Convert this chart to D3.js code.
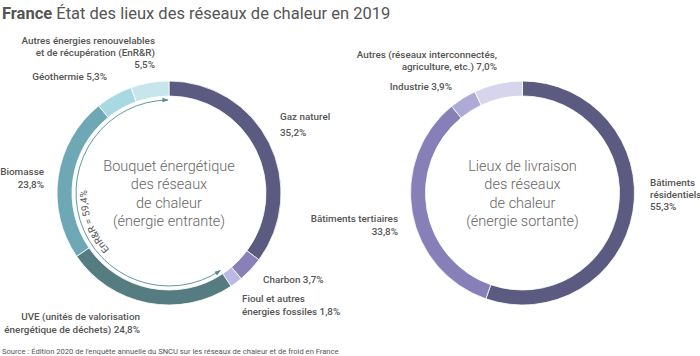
<!DOCTYPE html>
<html><head><meta charset="utf-8">
<script src="https://cdn.jsdelivr.net/npm/d3@7"></script>
<style>
body{margin:0;background:#fff;}
text{font-family:Roboto,"Noto Sans",sans-serif;}
</style></head><body>
<svg id="c" width="700" height="356"></svg>
<script>
const inCategories = ["Gaz naturel","Charbon","Fioul et autres énergies fossiles","UVE","Biomasse","Géothermie","Autres EnR&R"];
const inValues = [35.2,3.7,1.8,24.8,23.8,5.3,5.5];
const inColors = ["#5b5a80","#8a80b8","#bcb8e6","#557c80","#6fa8b5","#a8d8e2","#c6e6ec"];
const inLabels = [
  {lines:["Gaz naturel","35,2%"], x:280, y:120, anchor:"start", lh:16},
  {lines:["Charbon 3,7%"], x:263, y:283, anchor:"start", lh:12},
  {lines:["Fioul et autres","énergies fossiles 1,8%"], x:242, y:302, anchor:"start", lh:13},
  {lines:["UVE (unités de valorisation","énergétique de déchets) 24,8%"], x:140, y:320, anchor:"end", lh:12.5},
  {lines:["Biomasse","23,8%"], x:44, y:175, anchor:"end", lh:13},
  {lines:["Géothermie 5,3%"], x:107, y:80, anchor:"end", lh:12},
  {lines:["Autres énergies renouvelables","et de récupération (EnR&R)","5,5%"], x:155, y:44, anchor:"end", lh:12}
];
const outCategories = ["Bâtiments résidentiels","Bâtiments tertiaires","Industrie","Autres"];
const outValues = [55.3,33.8,3.9,7.0];
const outColors = ["#5b5a80","#8780b8","#aeaad6","#d6d5eb"];
const outLabels = [
  {lines:["Bâtiments","résidentiels","55,3%"], x:650, y:186, anchor:"start", lh:12},
  {lines:["Bâtiments tertiaires","33,8%"], x:398, y:222, anchor:"end", lh:13},
  {lines:["Industrie 3,9%"], x:452, y:90, anchor:"end", lh:12},
  {lines:["Autres (réseaux interconnectés,","agriculture, etc.) 7,0%"], x:497, y:58, anchor:"end", lh:12}
];
const enrShare = 59.4;

const svg = d3.select("#c");
const R = 112, r = 97, cy = 193;

function donut(cx, values, colors, labels, centerLines){
  const g = svg.append("g").attr("transform",`translate(${cx},${cy})`);
  const pie = d3.pie().sort(null).value(d=>d)(values);
  const arc = d3.arc().innerRadius(r).outerRadius(R);
  g.selectAll("path.seg").data(pie).join("path").attr("class","seg")
    .attr("d",arc).attr("fill",(d,i)=>colors[i]).attr("stroke","#fff").attr("stroke-width",0.8);
  const t = g.append("text").attr("text-anchor","middle").attr("fill","#666")
    .attr("font-size",14.5).attr("font-weight",300);
  centerLines.forEach((l,i)=>t.append("tspan").attr("x",0).attr("y",-22+i*18.3).text(l));
  labels.forEach(L=>{
    const tt = svg.append("text").attr("text-anchor",L.anchor).attr("fill","#555")
      .attr("font-size",9.9).attr("font-weight",500);
    L.lines.forEach((l,i)=>tt.append("tspan").attr("x",L.x).attr("y",L.y+i*L.lh).text(l));
  });
  return {g,pie};
}

const left = donut(169, inValues, inColors, inLabels, ["Bouquet énergétique","des réseaux","de chaleur","(énergie entrante)"]);
donut(522.5, outValues, outColors, outLabels, ["Lieux de livraison","des réseaux","de chaleur","(énergie sortante)"]);

// EnR&R arrow
const defs = svg.append("defs");
defs.append("marker").attr("id","ah").attr("viewBox","0 0 10 10").attr("refX",9).attr("refY",5)
  .attr("markerWidth",7).attr("markerHeight",7).attr("orient","auto-start-reverse")
  .append("path").attr("d","M0,1.5 L10,5 L0,8.5 Z").attr("fill","#4f8d98");
const fossil = inValues.slice(0,3).reduce((a,b)=>a+b,0);
const total = d3.sum(inValues);
const a0 = fossil/total*2*Math.PI, a1 = 2*Math.PI - 0.01;
const ra = 93;
const pt = a => [ra*Math.sin(a), -ra*Math.cos(a)];
const p0 = pt(a0), p1 = pt(a1);
left.g.append("path")
  .attr("d",`M${p0[0]},${p0[1]} A${ra},${ra} 0 1 1 ${p1[0]},${p1[1]}`)
  .attr("fill","none").attr("stroke","#4f8d98").attr("stroke-width",0.9)
  .attr("marker-start","url(#ah)").attr("marker-end","url(#ah)");
// text path for EnR&R
const rt = 82;
const b0 = 3.6, b1 = 5.1;
const q0 = [rt*Math.sin(b0), -rt*Math.cos(b0)], q1 = [rt*Math.sin(b1), -rt*Math.cos(b1)];
defs.append("path").attr("id","enrp").attr("d",`M${169+q0[0]},${cy+q0[1]} A${rt},${rt} 0 0 1 ${169+q1[0]},${cy+q1[1]}`);
svg.append("text").attr("fill","#555").attr("font-size",9.8)
  .append("textPath").attr("href","#enrp").attr("startOffset","50%").attr("text-anchor","middle")
  .text("EnR&R = " + String(enrShare).replace(".",",") + "%");

// Title
const title = svg.append("text").attr("x",2).attr("y",19).attr("font-size",16.5).attr("fill","#555");
title.append("tspan").attr("font-weight",700).text("France");
title.append("tspan").attr("font-weight",400).text(" État des lieux des réseaux de chaleur en 2019");
// Source
svg.append("text").attr("x",2).attr("y",354).attr("font-size",7.6).attr("fill","#555")
  .text("Source : Édition 2020 de l'enquête annuelle du SNCU sur les réseaux de chaleur et de froid en France");
</script></body></html>
